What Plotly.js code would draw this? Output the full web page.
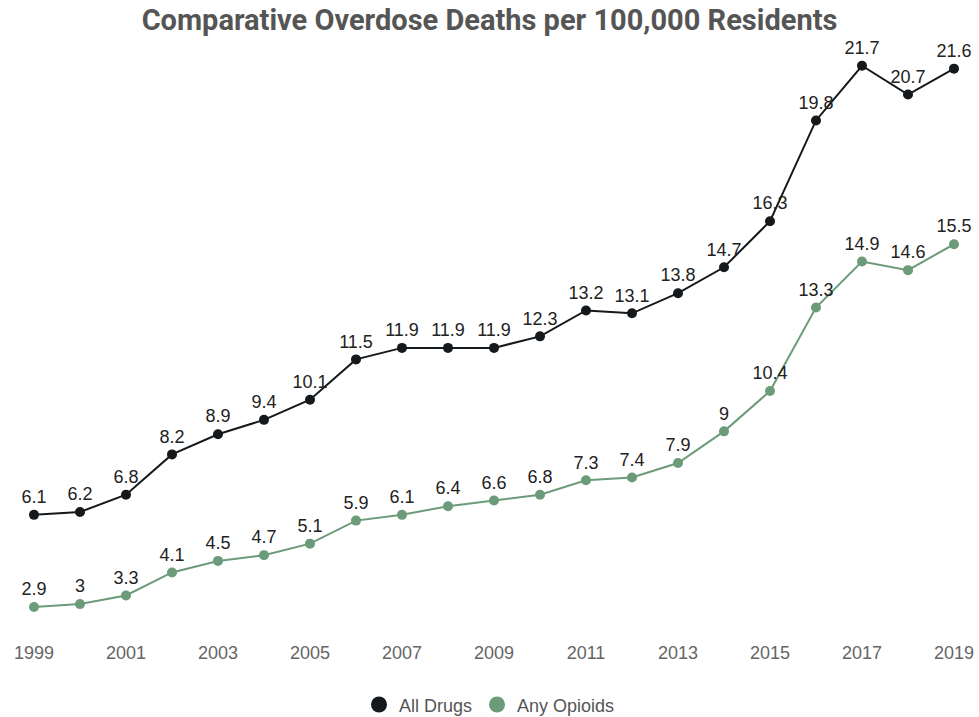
<!DOCTYPE html>
<html>
<head>
<meta charset="utf-8">
<script src="https://cdn.plot.ly/plotly-3.0.1.min.js"></script>
<style>
  html, body { margin: 0; padding: 0; background: #fff; }
  #chart { width: 979px; height: 717px; }
</style>
</head>
<body>
<div id="chart"></div>
<script>
// Overdose death rates per 100,000 residents, 1999-2019
const years = [1999, 2000, 2001, 2002, 2003, 2004, 2005, 2006, 2007, 2008, 2009,
               2010, 2011, 2012, 2013, 2014, 2015, 2016, 2017, 2018, 2019];
const allDrugs = [6.1, 6.2, 6.8, 8.2, 8.9, 9.4, 10.1, 11.5, 11.9, 11.9, 11.9,
                  12.3, 13.2, 13.1, 13.8, 14.7, 16.3, 19.8, 21.7, 20.7, 21.6];
const anyOpioids = [2.9, 3, 3.3, 4.1, 4.5, 4.7, 5.1, 5.9, 6.1, 6.4, 6.6,
                    6.8, 7.3, 7.4, 7.9, 9, 10.4, 13.3, 14.9, 14.6, 15.5];
const tickYears = [1999, 2001, 2003, 2005, 2007, 2009, 2011, 2013, 2015, 2017, 2019];

const seriesNames = ['All Drugs', 'Any Opioids'];
const seriesColors = ['#15191c', '#6b9b78'];
const labelFont = 'Liberation Sans, Arial, sans-serif';

// Line + marker + value label for each series (legend entries drawn separately)
function series(y, i) {
  return {
    x: years,
    y: y,
    name: seriesNames[i],
    type: 'scatter',
    mode: 'lines+markers+text',
    text: y.map(String),
    textposition: 'top center',
    textfont: { family: labelFont, size: 18, color: '#222' },
    cliponaxis: false,
    showlegend: false,
    line: { color: seriesColors[i], width: 2 },
    marker: { color: seriesColors[i], size: 10 },
    hoverinfo: 'x+y+name'
  };
}

// Marker-only legend entries
function legendEntry(i) {
  return {
    x: [null],
    y: [null],
    name: seriesNames[i],
    type: 'scatter',
    mode: 'markers',
    marker: { color: seriesColors[i], size: 16 },
    showlegend: true
  };
}

const data = [series(allDrugs, 0), series(anyOpioids, 1), legendEntry(0), legendEntry(1)];

const layout = {
  width: 979,
  height: 717,
  paper_bgcolor: '#fff',
  plot_bgcolor: '#fff',
  margin: { l: 34, r: 25, t: 60, b: 87, autoexpand: false },
  title: {
    text: '<b>Comparative Overdose Deaths per 100,000 Residents</b>',
    font: { family: 'Roboto, sans-serif', size: 29, color: '#555' },
    x: 0.5, xanchor: 'center',
    y: 0.972, yanchor: 'middle'
  },
  xaxis: {
    range: [1999, 2019],
    tickvals: tickYears,
    ticktext: tickYears.map(String),
    showgrid: false,
    zeroline: false,
    showline: false,
    ticks: '',
    tickfont: { family: labelFont, size: 18, color: '#666' },
    ticklabelstandoff: 10
  },
  yaxis: {
    range: [2.1, 21.9],
    visible: false,
    showgrid: false,
    zeroline: false
  },
  showlegend: true,
  legend: {
    orientation: 'h',
    x: 0.5, xanchor: 'center', xref: 'container',
    y: 0.017, yanchor: 'middle', yref: 'container',
    font: { family: labelFont, size: 18, color: '#555' },
    itemsizing: 'trace',
    traceorder: 'normal'
  }
};

Plotly.newPlot('chart', data, layout, { displayModeBar: false, staticPlot: true });
</script>
</body>
</html>
